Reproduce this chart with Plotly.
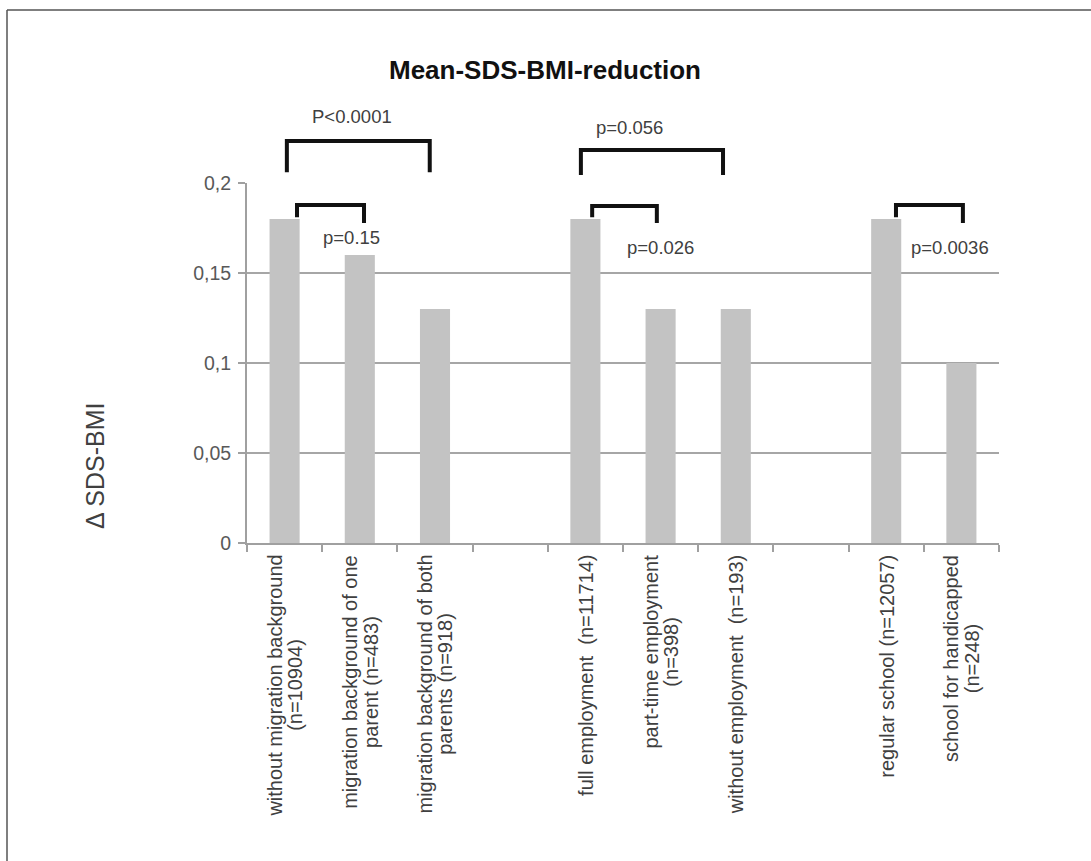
import plotly.graph_objects as go

# ---- data ----
categories = [
    "without migration background<br>(n=10904)",
    "migration background of one<br>parent (n=483)",
    "migration background of both<br>parents (n=918)",
    " ",
    "full employment \u00a0(n=11714)",
    "part-time employment<br>(n=398)",
    "without employment \u00a0(n=193)",
    "  ",
    "regular school (n=12057)",
    "school for handicapped<br>(n=248)",
]
values = [0.18, 0.16, 0.13, None, 0.18, 0.13, 0.13, None, 0.18, 0.10]

y_max = 0.2
y_dtick = 0.05

# brackets: left x, right x (category serial), top level, left/right leg bottoms (data units)
bracket_left = [0.03, 0.165, 3.94, 4.09, 8.13]
bracket_right = [1.93, 1.056, 5.83, 4.95, 9.02]
bracket_top = [0.2233, 0.1878, 0.2183, 0.1872, 0.1878]
bracket_bot_left = [0.206, 0.181, 0.2044, 0.181, 0.181]
bracket_bot_right = [0.206, 0.1778, 0.2044, 0.1778, 0.1778]

p_labels = ["P<0.0001", "p=0.15", "p=0.056", "p=0.026", "p=0.0036"]
p_label_x = [0.896, 0.896, 4.58, 5.005, 8.85]
p_label_y = [0.2372, 0.170, 0.2311, 0.1639, 0.1644]

FONT = "Liberation Sans, Arial, sans-serif"

fig = go.Figure()
fig.add_trace(go.Bar(
    x=categories, y=values, width=0.4,
    marker=dict(color="#c3c3c3", line=dict(width=0)),
    hoverinfo="skip",
))

W, H = 1091, 861
ML, MR, MT, MB = 247, 92, 183, 318
pw, ph = W - ML - MR, H - MT - MB

shapes = []
for xl, xr, yt, ybl, ybr in zip(bracket_left, bracket_right, bracket_top,
                                bracket_bot_left, bracket_bot_right):
    p = lambda v: v / y_max
    shapes.append(dict(
        type="path", xref="x", yref="paper",
        path=f"M {xl},{p(ybl)} L {xl},{p(yt)} L {xr},{p(yt)} L {xr},{p(ybr)}",
        line=dict(color="#111111", width=4),
    ))

# frame lines (top and left) of the figure picture
shapes.append(dict(type="line", xref="paper", yref="paper",
                   x0=(7 - ML) / pw, x1=(W - ML) / pw,
                   y0=(H - MB - 10) / ph, y1=(H - MB - 10) / ph,
                   line=dict(color="#555555", width=1.5)))
shapes.append(dict(type="line", xref="paper", yref="paper",
                   x0=(7 - ML) / pw, x1=(7 - ML) / pw,
                   y0=(H - MB - 10) / ph, y1=(H - MB - H) / ph,
                   line=dict(color="#555555", width=1.5)))

annotations = []
for txt, xx, yy in zip(p_labels, p_label_x, p_label_y):
    annotations.append(dict(
        text=txt, x=xx, y=yy / y_max, xref="x", yref="paper",
        showarrow=False, xanchor="center", yanchor="middle",
        font=dict(family=FONT, size=18.5, color="#404040"),
    ))

for c in categories:
    if not c.strip():
        continue
    annotations.append(dict(
        text='<span style="font-size:20px">' + c.replace("<br>", '</span><br><span style="font-size:20px">') + "</span>",
        x=c, y=0, xref="x", yref="y", yshift=-10,
        showarrow=False, textangle=-90, xanchor="center", yanchor="top",
        align="center", font=dict(family=FONT, size=16, color="#404040"),
    ))

annotations.append(dict(
    text="\u0394 SDS-BMI", xref="paper", yref="paper",
    x=(95 - ML) / pw, y=(H - MB - 466) / ph,
    showarrow=False, textangle=-90, xanchor="center", yanchor="middle",
    font=dict(family=FONT, size=25, color="#404040"),
))

fig.update_layout(
    width=W, height=H, autosize=False,
    margin=dict(l=ML, r=MR, t=MT, b=MB, pad=0),
    paper_bgcolor="white", plot_bgcolor="white",
    separators=",.",
    showlegend=False,
    title=dict(text="<b>Mean-SDS-BMI-reduction</b>", x=545 / W, xanchor="center",
               y=1 - 70 / H, yanchor="middle", xref="container", yref="container",
               font=dict(family=FONT, size=26, color="#111111")),
    xaxis=dict(type="category", categoryorder="array", categoryarray=categories,
               showticklabels=False, ticks="outside", tickson="boundaries",
               ticklen=7, tickwidth=1.5, tickcolor="#a0a0a0",
               showline=True, linecolor="#a0a0a0", linewidth=2,
               showgrid=False, zeroline=False, fixedrange=True),
    yaxis=dict(range=[0, y_max], dtick=y_dtick, tick0=0,
               ticks="outside", ticklen=7, tickwidth=1.5, tickcolor="#a0a0a0",
               showline=True, linecolor="#a0a0a0", linewidth=2,
               showgrid=True, gridcolor="#a6a6a6", gridwidth=2,
               zeroline=False,
               tickfont=dict(family=FONT, size=19.5, color="#595959"),
               ticklabelstandoff=3, fixedrange=True),
    shapes=shapes,
    annotations=annotations,
)

fig.write_html("out.html", post_script="document.body.style.margin='0';",
               config={"displayModeBar": False})
